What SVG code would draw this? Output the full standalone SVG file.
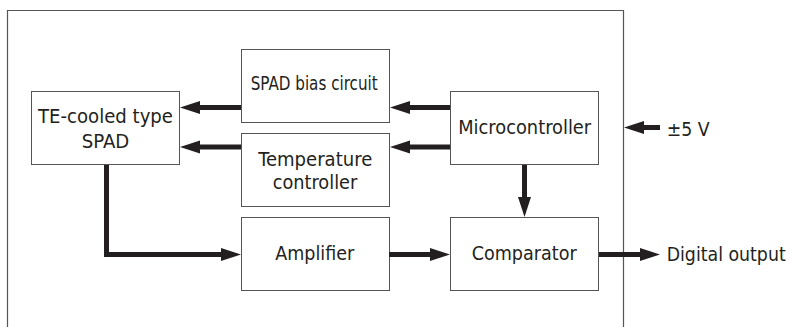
<svg xmlns="http://www.w3.org/2000/svg" width="792" height="327" viewBox="0 0 792 327">
<style>
.box{fill:#fff;stroke:#555;stroke-width:1}
.frame{fill:none;stroke:#555;stroke-width:1.2}
text{font-family:"DejaVu Sans Condensed","DejaVu Sans",sans-serif;font-size:19.5px;fill:#231f20;text-anchor:middle}
.l{text-anchor:start}
.conn{fill:none;stroke:#231f20;stroke-width:5;marker-end:url(#ah)}
</style>
<defs>
<marker id="ah" markerUnits="userSpaceOnUse" markerWidth="21" markerHeight="14" refX="5" refY="7" orient="auto" viewBox="0 0 21 14">
<path d="M0,0.5 L20,7 L0,13.5 z" fill="#231f20"/>
</marker>
</defs>
<path class="frame" d="M7.5,327 V10.5 H623.5 V327"/>
<g id="te-spad"><rect class="box" x="31.5" y="91.5" width="148" height="73"/><text x="105.5" y="123" textLength="135" lengthAdjust="spacingAndGlyphs">TE-cooled type</text><text x="105.5" y="148" textLength="47.5" lengthAdjust="spacingAndGlyphs">SPAD</text></g>
<g id="spad-bias"><rect class="box" x="241.5" y="49.5" width="148" height="73"/><text x="314.2" y="90" textLength="127" lengthAdjust="spacingAndGlyphs">SPAD bias circuit</text></g>
<g id="temp-ctrl"><rect class="box" x="241.5" y="133.5" width="148" height="73"/><text x="315.3" y="166" textLength="114" lengthAdjust="spacingAndGlyphs">Temperature</text><text x="315" y="188.5" textLength="84.5" lengthAdjust="spacingAndGlyphs">controller</text></g>
<g id="amplifier"><rect class="box" x="241.5" y="217.5" width="148" height="73"/><text x="314.7" y="260" textLength="79" lengthAdjust="spacingAndGlyphs">Amplifier</text></g>
<g id="micro"><rect class="box" x="450.5" y="91.5" width="148" height="73"/><text x="524.7" y="133.5" textLength="133" lengthAdjust="spacingAndGlyphs">Microcontroller</text></g>
<g id="comparator"><rect class="box" x="450.5" y="217.5" width="148" height="73"/><text x="524.2" y="259.5" textLength="105" lengthAdjust="spacingAndGlyphs">Comparator</text></g>
<g id="connectors">
<path class="conn" d="M241,107.5 H195"/>
<path class="conn" d="M241,147 H195"/>
<path class="conn" d="M450,107.5 H405"/>
<path class="conn" d="M450,147 H405"/>
<path class="conn" d="M524.5,165 V202"/>
<path class="conn" d="M106.5,165 V254.5 H226"/>
<path class="conn" d="M389,254.5 H435"/>
<path class="conn" d="M599,254.5 H645"/>
<path class="conn" d="M660,127.5 H639"/>
</g>
<g id="labels">
<text class="l" x="666.7" y="136" textLength="43" lengthAdjust="spacingAndGlyphs">±5 V</text>
<text class="l" x="666.7" y="261" textLength="119" lengthAdjust="spacingAndGlyphs">Digital output</text>
</g>
</svg>
